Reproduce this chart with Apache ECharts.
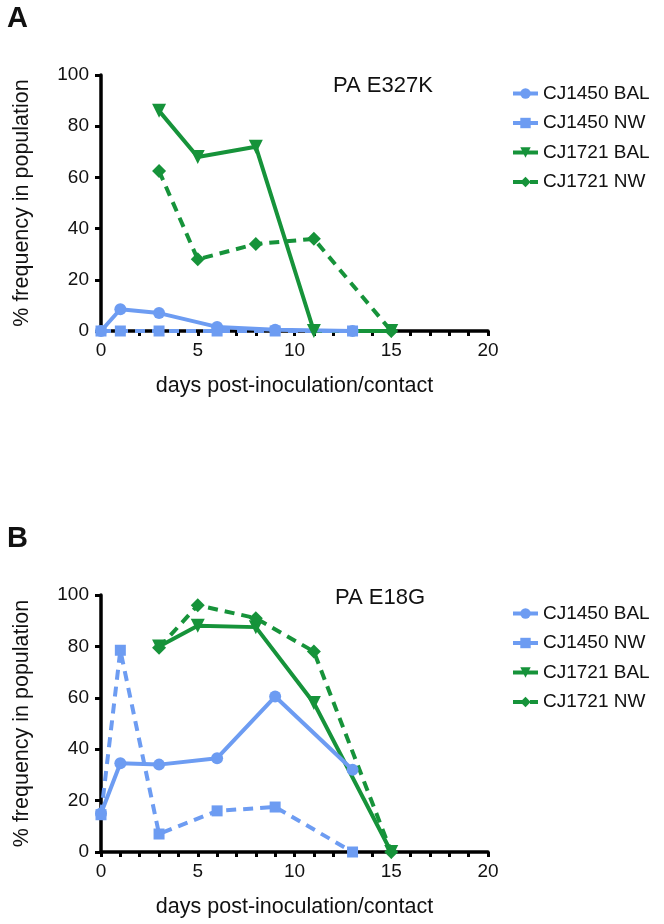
<!DOCTYPE html>
<html><head><meta charset="utf-8">
<script src="https://cdn.jsdelivr.net/npm/echarts@6/dist/echarts.min.js"></script>
<style>html,body{margin:0;padding:0;background:#fff}#c{width:664px;height:924px}</style>
</head><body><div id="c"></div>
<script>
var seriesNames = ['CJ1450 BAL','CJ1450 NW','CJ1721 BAL','CJ1721 NW'];
var days1450 = [0,1,3,6,9,13];
var days1721 = [3,5,8,11,15];
// Panel A: PA E327K
var a1450BAL = [0,8.5,7,1.6,0.5,0];
var a1450NW  = [0,0,0,0,0,0];
var a1721BAL = [86,68,72,0,0];
var a1721NW  = [62.5,28,34,36,0];
// Panel B: PA E18G
var b1450BAL = [15,34.5,34,36.5,60.5,32];
var b1450NW  = [14.5,78.5,7,16,17.5,0];
var b1721BAL = [80,88,87.5,58,0];
var b1721NW  = [79.5,96,91,78,0];

var BLUE = '#6d9cf2', GREEN = '#16933a';
var FONT = 'Liberation Sans, Arial, sans-serif';
function pairs(d, v){ return d.map(function(x,i){ return [x, v[i]]; }); }
var tri = 'path://M0,0 L10,0 L5,9 Z';
var styles = [
  {color:BLUE, symbol:'circle', size:12, type:'solid'},
  {color:BLUE, symbol:'rect', size:11, type:[10,7]},
  {color:GREEN, symbol:tri, size:14, type:'solid'},
  {color:GREEN, symbol:'diamond', size:14, type:[10,7]}
];
function mk(idx, si, d, v){
  var s = styles[si];
  return {name: seriesNames[si], type:'line', xAxisIndex:idx, yAxisIndex:idx,
    data: pairs(d, v), symbol: s.symbol, symbolSize: s.size, showSymbol:true,
    lineStyle:{color:s.color, width:4, type:s.type}, itemStyle:{color:s.color},
    animation:false, z: 2};
}
function xAx(idx){
  return {type:'value', gridIndex:idx, min:0, max:20, interval:5,
    name:'days post-inoculation/contact', nameLocation:'middle', nameGap:44,
    nameTextStyle:{fontFamily:FONT, fontSize:21.5, color:'#111'},
    axisLine:{show:true, onZero:false, lineStyle:{color:'#000', width:3.5}},
    axisTick:{show:true, length:5, lineStyle:{color:'#000', width:3}},
    minorTick:{show:true, splitNumber:5, length:5, lineStyle:{color:'#000', width:3}},
    axisLabel:{fontFamily:FONT, fontSize:19, color:'#111', margin:10},
    splitLine:{show:false}};
}
function yAx(idx){
  return {type:'value', gridIndex:idx, min:0, max:100, interval:20,
    name:'% frequency in population', nameLocation:'middle', nameGap:68,
    nameTextStyle:{fontFamily:FONT, fontSize:21.5, color:'#111'},
    axisLine:{show:true, lineStyle:{color:'#000', width:3.5}},
    axisTick:{show:true, length:6, lineStyle:{color:'#000', width:3}},
    axisLabel:{fontFamily:FONT, fontSize:19, color:'#111', margin:12},
    splitLine:{show:false}};
}
function legend(top){
  return {orient:'vertical', left:506, top:top, itemWidth:25, itemHeight:13, itemGap:10.5,
    textStyle:{fontFamily:FONT, fontSize:19, color:'#111'}, data:seriesNames,
    lineStyle:{width:4}};
}
var chart = echarts.init(document.getElementById('c'), null, {renderer:'canvas'});
chart.setOption({
  backgroundColor:'#fff',
  animation:false,
  grid:[{left:101, top:75, width:387, height:256},{left:101, top:595, width:387, height:257}],
  xAxis:[xAx(0), xAx(1)],
  yAxis:[yAx(0), yAx(1)],
  legend:[legend(79), legend(599)],
  graphic:[
    {type:'text', x:7, y:19, style:{text:'A', font:'bold 29px '+FONT, fill:'#111', verticalAlign:'middle'}},
    {type:'text', x:7, y:539, style:{text:'B', font:'bold 29px '+FONT, fill:'#111', verticalAlign:'middle'}},
    {type:'text', x:333, y:86, style:{text:'PA E327K', font:'22px '+FONT, fill:'#111', verticalAlign:'middle'}},
    {type:'text', x:335, y:598, style:{text:'PA E18G', font:'22px '+FONT, fill:'#111', verticalAlign:'middle'}}
  ],
  series:[
    mk(0,2,days1721,a1721BAL), mk(0,3,days1721,a1721NW),
    mk(0,0,days1450,a1450BAL), mk(0,1,days1450,a1450NW),
    mk(1,2,days1721,b1721BAL), mk(1,3,days1721,b1721NW),
    mk(1,0,days1450,b1450BAL), mk(1,1,days1450,b1450NW)
  ]
});
</script></body></html>
